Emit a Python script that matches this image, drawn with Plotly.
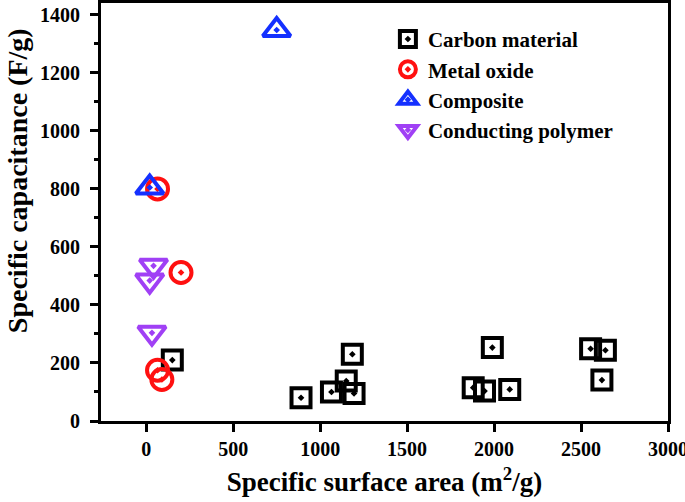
import plotly.graph_objects as go

carbon_x = [150, 890, 1065, 1150, 1195, 1185, 1990, 1880, 1945, 2090, 2555, 2640, 2620]
carbon_y = [210, 80, 100, 138, 95, 230, 253, 115, 103, 109, 249, 244, 141]

oxide_x = [65, 200, 65, 90]
oxide_y = [800, 512, 175, 143]

composite_x = [20, 750]
composite_y = [805, 1348]

polymer_x = [42, 20, 33]
polymer_y = [535, 484, 304]

names = ["Carbon material", "Metal oxide", "Composite", "Conducting polymer"]
colors = ["#000000", "#ff1010", "#1430ff", "#a040f5"]
symbols = ["square-open-dot", "circle-open-dot", "triangle-up-open-dot", "triangle-down-open-dot"]
sizes = [19, 21, 24, 24]

xticks = [0, 500, 1000, 1500, 2000, 2500, 3000]
yticks = [0, 200, 400, 600, 800, 1000, 1200, 1400]

FONT = "Liberation Serif"

fig = go.Figure()
for xs, ys, name, c, s, sz in zip(
    [carbon_x, oxide_x, composite_x, polymer_x],
    [carbon_y, oxide_y, composite_y, polymer_y],
    names, colors, symbols, sizes,
):
    fig.add_trace(go.Scatter(
        x=xs, y=ys, mode="markers", name=name,
        marker=dict(symbol=s, size=sz, color=c, line=dict(width=4, color=c)),
        cliponaxis=False,
    ))

fig.update_layout(
    width=685, height=502,
    margin=dict(l=101, r=17, t=3, b=81, autoexpand=False),
    plot_bgcolor="white", paper_bgcolor="white",
    font=dict(family=FONT, size=20, color="black", weight="bold"),
    legend=dict(
        x=0.506, xanchor="left", y=0.962, yanchor="top",
        font=dict(family=FONT, size=21, color="black", weight="bold"),
        bgcolor="rgba(0,0,0,0)", tracegroupgap=0,
    ),
    showlegend=True,
)
fig.update_xaxes(
    range=[-260, 3000], tickvals=xticks, ticktext=[str(v) for v in xticks],
    showgrid=False, zeroline=False, automargin=False, ticklabeloverflow="allow",
    showline=True, linewidth=3, linecolor="black", mirror=True,
    ticks="outside", ticklen=8, tickwidth=3, tickcolor="black",
    tickfont=dict(family=FONT, size=20, weight="bold"),
    title=dict(text="Specific surface area (m<sup>2</sup>/g)",
               font=dict(family=FONT, size=27, weight="bold"), standoff=14),
)
fig.update_yaxes(
    range=[0, 1441], tickvals=yticks, ticktext=[str(v) for v in yticks],
    showgrid=False, zeroline=False, automargin=False, ticklabeloverflow="allow",
    showline=True, linewidth=3, linecolor="black", mirror=True,
    ticks="outside", ticklen=8, tickwidth=3, tickcolor="black", ticklabelstandoff=6,
    tickfont=dict(family=FONT, size=20, weight="bold"),
    minor=dict(dtick=100, tick0=0, ticks="outside", ticklen=4, tickwidth=3, tickcolor="black"),
)
fig.add_annotation(
    text="Specific capacitance (F/g)", textangle=-90,
    xref="paper", yref="paper", x=-0.148, y=0.574,
    xanchor="center", yanchor="middle", showarrow=False,
    font=dict(family=FONT, size=28, color="black", weight="bold"),
)

fig.write_html(
    "out.html",
    config={"displayModeBar": False},
    post_script="document.body.style.margin='0px';document.body.style.overflow='hidden';",
)
